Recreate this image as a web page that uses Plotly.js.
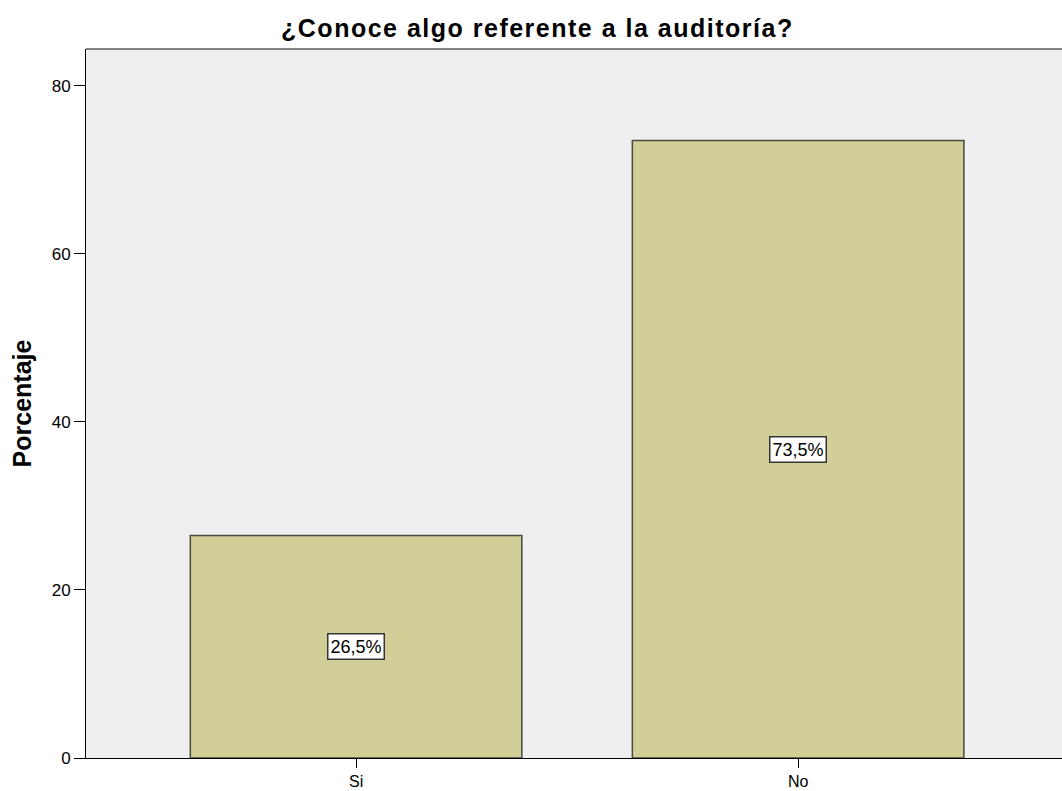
<!DOCTYPE html>
<html>
<head>
<meta charset="utf-8">
<script src="https://cdn.plot.ly/plotly-3.0.1.min.js"></script>
<style>
html,body{margin:0;padding:0;background:#fff;}
.gtitle{letter-spacing:1.5px;}
</style>
</head>
<body>
<div id="chart" style="width:1062px;height:791px;"></div>
<script>
const categories = ["Si", "No"];
const percentages = [26.5, 73.5];
const valueLabels = ["26,5%", "73,5%"];
const yTicks = [0, 20, 40, 60, 80];

const FONT = "Liberation Sans, Arial, sans-serif";

const trace = {
  type: "bar",
  x: categories,
  y: percentages,
  width: 0.75,
  marker: {color: "#D2CE98", line: {color: "#4a4a40", width: 1.5}},
  hoverinfo: "none"
};

const annotations = categories.map((c, i) => ({
  x: c, y: percentages[i] / 2, xref: "x", yref: "y",
  text: valueLabels[i], showarrow: false,
  bgcolor: "#ffffff", bordercolor: "#333333", borderwidth: 1.5, borderpad: 2,
  font: {family: FONT, size: 18, color: "#000"}
}));

const layout = {
  width: 1062, height: 791,
  margin: {l: 86, r: 0, t: 49, b: 33},
  paper_bgcolor: "#ffffff",
  plot_bgcolor: "#EFEFEF",
  showlegend: false,
  title: {
    text: "¿Conoce algo referente a la auditoría?",
    font: {family: FONT, size: 25, color: "#000", weight: "bold"},
    x: 0.506, xanchor: "center", y: 0.964, yanchor: "middle"
  },
  xaxis: {
    range: [-0.611, 1.597],
    showgrid: false, zeroline: false,
    showline: true, linecolor: "#000", linewidth: 1,
    ticks: "outside", ticklen: 9, tickcolor: "#000", tickwidth: 1,
    tickfont: {family: FONT, size: 16, color: "#000"}
  },
  yaxis: {
    range: [0, 84.4],
    tickvals: yTicks, ticktext: yTicks.map(String),
    showgrid: false, zeroline: false,
    showline: true, linecolor: "#000", linewidth: 1,
    ticks: "outside", ticklen: 11, tickcolor: "#000", tickwidth: 1,
    tickfont: {family: FONT, size: 17, color: "#000"},
    title: {text: "Porcentaje", standoff: 12,
      font: {family: FONT, size: 25, color: "#000", weight: "bold"}}
  },
  annotations: annotations,
  shapes: [{type: "line", xref: "paper", yref: "paper", x0: 0, x1: 1, y0: 1, y1: 1,
    line: {color: "#808080", width: 2}}]
};

Plotly.newPlot("chart", [trace], layout, {displayModeBar: false, staticPlot: true});
</script>
</body>
</html>
